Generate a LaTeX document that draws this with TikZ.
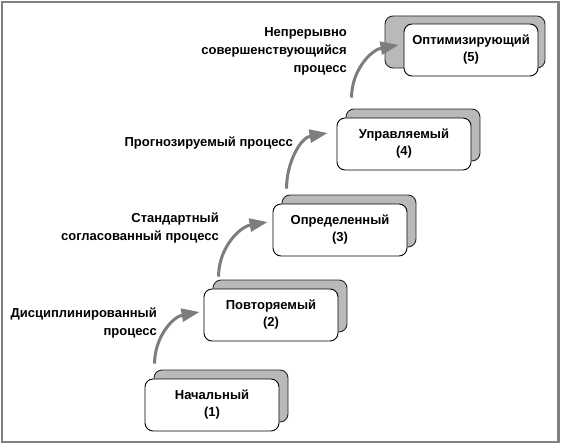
\documentclass[tikz,border=0pt]{standalone}
\usepackage{fontspec}
\setmainfont{Liberation Sans}
\usetikzlibrary{arrows.meta}
\definecolor{framegray}{RGB}{128,128,128}
\definecolor{shadowgray}{RGB}{185,185,185}
\definecolor{arrgray}{RGB}{125,125,125}
\begin{document}
\begin{tikzpicture}[x=1pt,y=-1pt,
 frontbox/.style={draw=black, line width=0.9pt, fill=white, rounded corners=8pt, minimum width=134pt, minimum height=52pt, inner sep=0pt, align=center, font=\fontsize{13}{17}\selectfont\bfseries},
 backbox/.style={draw=black!85, line width=0.9pt, fill=shadowgray, rounded corners=8pt, minimum width=134pt, minimum height=52pt, inner sep=0pt},
 lbl/.style={align=right, anchor=east, inner sep=0pt, font=\fontsize{13}{18}\selectfont\bfseries},
 arr/.style={draw=arrgray, line width=3pt, -{Triangle[length=18pt,width=13pt]}}
]
\useasboundingbox (0,0) rectangle (561,444);
\fill[white] (0,0) rectangle (561,444);
\draw[framegray, line width=2.2pt] (2,2) rectangle (558.5,442);

\node[backbox] (s1) at (221,396) {};
\node[frontbox] (b1) at (212,405) {Начальный\\(1)};
\node[backbox] (s2) at (280,306) {};
\node[frontbox] (b2) at (271,315) {Повторяемый\\(2)};
\node[backbox] (s3) at (349,221) {};
\node[frontbox] (b3) at (340,230) {Определенный\\(3)};
\node[backbox] (s4) at (413,135) {};
\node[frontbox] (b4) at (404,144) {Управляемый\\(4)};
\node[backbox, minimum width=160pt] (s5) at (465,42) {};
\node[frontbox] (b5) at (471,50) {Оптимизирующий\\(5)};

\draw[arr] ([xshift=1pt,yshift=6pt]s1.north west) to[out=90,in=190] ([xshift=-4pt,yshift=3pt]b2.west);
\draw[arr] ([xshift=6pt,yshift=3pt]s2.north west) to[out=90,in=190] ([xshift=-5pt,yshift=8pt]b3.west);
\draw[arr] ([xshift=5pt,yshift=6pt]s3.north west) to[out=90,in=190] ([xshift=-9pt,yshift=11pt]b4.west);
\draw[arr] ([xshift=6pt,yshift=11pt]s4.north west) to[out=90,in=190] ([xshift=-5pt,yshift=5pt]b5.west);

\node[lbl] (l1) at (157,323) {Дисциплинированный\\процесс};
\node[lbl] (l2) at (219,228.5) {Стандартный\\согласованный процесс};
\node[lbl] (l3) at (293,143) {Прогнозируемый процесс};
\node[lbl] (l4) at (347,51) {Непрерывно\\совершенствующийся\\процесс};
\end{tikzpicture}
\end{document}
